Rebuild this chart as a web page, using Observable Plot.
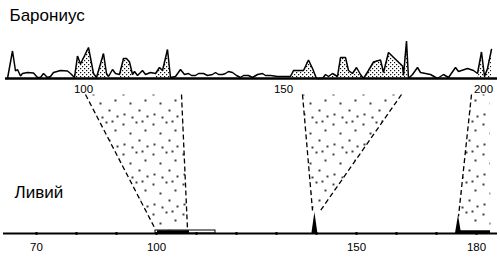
<!DOCTYPE html>
<html><head><meta charset="utf-8">
<script src="https://cdn.jsdelivr.net/npm/d3@7"></script>
<script src="https://cdn.jsdelivr.net/npm/@observablehq/plot@0.6"></script>
<style>html,body{margin:0;padding:0;background:#fff;}</style>
</head><body><div id="chart"></div>
<script>
// ---- Baronius profile (year, volume) ----
const baroniusYears = [81,82.25,83,83.5,84.25,84.75,86,87.5,88.5,89.25,90,91,91.75,92.5,94.25,96,96.75,97.75,98.5,99.25,101.25,102.5,103.25,105,105.75,106.25,107.25,108,109,110,110.75,111.5,112.25,112.75,113.5,114.75,115.5,116.75,118,119,119.75,121,121.75,123,124.25,125.25,126.25,127,128,128.75,130,131,132.25,133,133.75,134.75,135.5,136.25,137.25,138.25,139.25,140,141.25,142.25,143.5,144.75,145.5,146.75,148.5,149.75,151.75,152.5,155,156.25,157.25,158.25,159.75,160.5,161.25,162.25,163.5,164.25,165.5,166.25,167.25,168.25,169.25,170,171.25,172.5,174.25,175,176.25,179.75,180,180.75,181.25,182.25,183.5,184.25,186.75,188.5,190,191.25,193,193.75,196,197.5,198.5,199.5,200.25,201,202];
const baroniusValues = [0,27.5,7.5,9,2.5,5,6,5.5,1,1,5,1,2,6,8,7.5,5,1,22.5,14.5,31,5,1,25,5,2,9,5,4,20,20,16.5,4,7,3,8,4,6,5,11,8,29,1,2,9,4,5,3,3,5,5,3,4,6,4,4,5,7,6,3,1,3,3,1,4,5,3,3,2,2,2,8,8,18.5,10,0,0,4,2,5,2,21,21,8,5,11,4,0,8,16.5,18.5,6,26,12.5,3,37.5,0,4,11,6,4,0,4,1,11,7,10,8,5,26.5,2,10,29];
const baroniusStippleFrom = [97.75,103.25,109,118,151.75,162.25,170,198.5];
const baroniusStippleTo   = [103.25,106.25,112.25,121.75,158.25,170,181.25,202];
const baroniusAxisFrom = 80.5, baroniusAxisTo = 203.5;
const baroniusTickLabels = [100,150,200];

// ---- Livy ----
const livyAxisFrom = 61.75, livyAxisTo = 185.25;
const livyTickYears = [70,80,90,100,110,120,130,140,150,160,170,180];
const livyTickLabels = [70,100,150,180];
const livySpikeYears = [139.6,175.5];
const livySpikeValues = [21,18];
const livyBoxFrom = [99.75], livyBoxTo = [114.75];
const livyBarFrom = [100.25,175.5], livyBarTo = [108.25,183.5];

// ---- Connectors (Baronius years on top, Livy years below) ----
const connTopFrom = [100.5,154.75,197];
const connTopTo = [124.5,179.5,201.5];
const connBottomFrom = [99.75,139,175.5];
const connBottomTo = [107.75,141,183.5];
const connBottomLevelFrom = [4,23,17];
const connBottomLevelTo = [4,23,4];
const connDashedRight = [true,true,false];

// ---- layout constants ----
const SHIFT = 18.25;      // Baronius year -> shared axis
const TOP_BASE = 155;     // level of Baronius baseline
const CONN_TOP = 139;

const bx = b => b - SHIFT;
const baronius = baroniusYears.map((b,i)=>({x:bx(b), y:TOP_BASE+baroniusValues[i]}));
const stipple = [];
baroniusStippleFrom.forEach((f,k)=>{
  baroniusYears.forEach((b,i)=>{ if(b>=f && b<=baroniusStippleTo[k]) stipple.push({seg:k,x:bx(b),y:TOP_BASE+baroniusValues[i]}); });
});
const spikes = [];
livySpikeYears.forEach((l,i)=>{
  spikes.push({s:i,x:l-0.75,y:0},{s:i,x:l,y:livySpikeValues[i]},{s:i,x:l+0.75,y:0});
});
const polys = [];
const conn = connTopFrom.map((t,i)=>({i, tx1:bx(t), tx2:bx(connTopTo[i]), bx1:connBottomFrom[i], bx2:connBottomTo[i], by1:connBottomLevelFrom[i], by2:connBottomLevelTo[i], right:connDashedRight[i]}));
conn.forEach(c=>{
  polys.push({id:c.i,x:c.tx1,y:CONN_TOP},{id:c.i,x:c.tx2,y:CONN_TOP},{id:c.i,x:c.bx2,y:c.by2},{id:c.i,x:c.bx1,y:c.by1});
});
const dashed = [];
conn.forEach(c=>{
  dashed.push({x1:c.tx1,y1:CONN_TOP,x2:c.bx1,y2:c.by1});
  if(c.right) dashed.push({x1:c.tx2,y1:CONN_TOP,x2:c.bx2,y2:c.by2});
});

const font = "'Liberation Sans', Arial, sans-serif";
const svg = Plot.plot({
  width:500, height:257, margin:0,
  x:{domain:[61,186], axis:null},
  y:{domain:[-24,233], axis:null},
  style:{fontFamily:font, background:"white", color:"black"},
  marks:[
    // connectors
    Plot.line(polys,{x:"x",y:"y",z:"id",fill:"url(#sparse)",stroke:"none",curve:"linear-closed"}),
    Plot.link(dashed,{x1:"x1",y1:"y1",x2:"x2",y2:"y2",stroke:"black",strokeWidth:1.3,strokeDasharray:"5,3"}),
    // Baronius
    Plot.areaY(stipple,{x:"x",y1:TOP_BASE,y2:"y",z:"seg",fill:"url(#dense)"}),
    Plot.ruleY([TOP_BASE],{x1:bx(baroniusAxisFrom),x2:bx(baroniusAxisTo),stroke:"black",strokeWidth:2.5}),
    Plot.line(baronius,{x:"x",y:"y",stroke:"black",strokeWidth:1.5,strokeLinejoin:"miter"}),
    Plot.text(baroniusTickLabels,{x:d=>bx(d),y:TOP_BASE-11,text:d=>String(d),fontSize:11.5,fill:"black"}),
    Plot.text(["Барониус"],{x:bx(baroniusAxisFrom)+1,y:218,text:d=>d,textAnchor:"start",fontSize:17,fill:"black"}),
    // Livy
    Plot.rect(livyBoxFrom.map((f,i)=>({x1:f,x2:livyBoxTo[i]})),{x1:"x1",x2:"x2",y1:0,y2:3,fill:"white",stroke:"black",strokeWidth:1}),
    Plot.ruleY([0],{x1:livyAxisFrom,x2:livyAxisTo,stroke:"black",strokeWidth:2}),
    Plot.ruleY(livyBarFrom.map((f,i)=>({x1:f,x2:livyBarTo[i]})),{x1:"x1",x2:"x2",y:1.5,stroke:"black",strokeWidth:3.5}),
    Plot.areaY(spikes,{x:"x",y1:0,y2:"y",z:"s",fill:"black"}),
    Plot.dot(livyTickYears,{x:d=>d,y:0,r:1.4,fill:"black",stroke:"none"}),
    Plot.text(livyTickLabels,{x:d=>d,y:-14,text:d=>String(d),fontSize:11.5,fill:"black"}),
    Plot.text(["Ливий"],{x:64.5,y:41,text:d=>d,textAnchor:"start",fontSize:17,fill:"black"})
  ]
});
const defs = d3.select(svg).insert("defs",":first-child");
const dense = defs.append("pattern").attr("id","dense").attr("patternUnits","userSpaceOnUse").attr("width",4).attr("height",4);
dense.append("rect").attr("width",4).attr("height",4).attr("fill","white");
[[0,0],[2,2]].forEach(([a,b])=>dense.append("rect").attr("x",a).attr("y",b).attr("width",1.2).attr("height",1.2).attr("fill","#111"));
const sparse = defs.append("pattern").attr("id","sparse").attr("patternUnits","userSpaceOnUse").attr("width",30).attr("height",30);
sparse.append("rect").attr("width",30).attr("height",30).attr("fill","white");
[[3,4],[16,2],[25,10],[10,13],[19,20],[4,24],[27,26],[12,27],[22,1]].forEach(([a,b])=>sparse.append("circle").attr("cx",a).attr("cy",b).attr("r",1).attr("fill","#000"));
document.getElementById("chart").appendChild(svg);
</script>
</body></html>
